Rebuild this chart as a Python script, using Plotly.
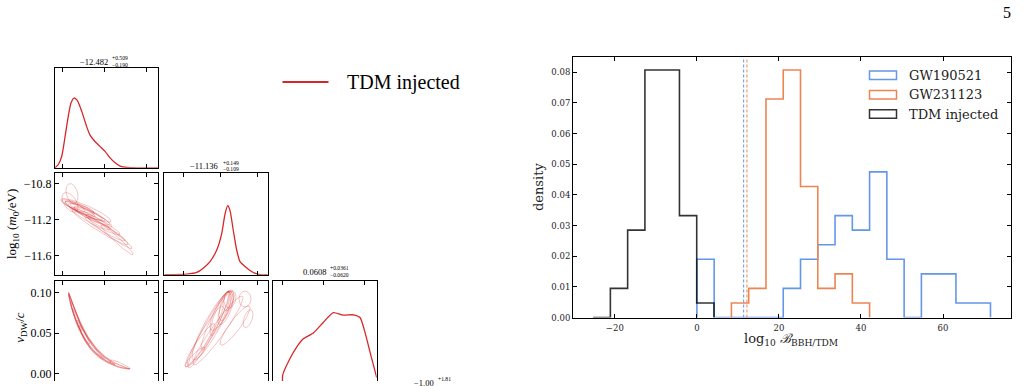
import numpy as np
import plotly.graph_objects as go

W, H = 1023, 386
RED = "#d62728"
CONTOUR = "rgba(214,39,40,0.3)"
BLUE = "#6397e8"
ORANGE = "#ec8552"
BLACK = "rgba(0,0,0,0.8)"

# ---------------- corner plot data ----------------
# marginal of parameter 0 (first column)
diag0_x = [-13.18, -13.10, -13.02, -12.94, -12.86, -12.80, -12.73, -12.65, -12.54, -12.44,
           -12.35, -12.23, -12.11, -11.99, -11.87, -11.75, -11.63, -11.47, -11.20, -10.73]
diag0_y = [0.0, 0.033, 0.116, 0.314, 0.528, 0.65, 0.70, 0.676, 0.561, 0.43,
           0.33, 0.264, 0.215, 0.165, 0.099, 0.05, 0.017, 0.003, 0.0, 0.0]
# marginal of log10(m0/eV)
diag1_x = [-11.81, -11.567, -11.459, -11.388, -11.315, -11.242, -11.188, -11.152, -11.123,
           -11.098, -11.063, -11.026, -10.990, -10.936, -10.846, -10.773, -10.69]
diag1_y = [0.0, 0.006, 0.022, 0.064, 0.129, 0.244, 0.406, 0.601, 0.682,
           0.633, 0.439, 0.244, 0.129, 0.081, 0.022, 0.0, 0.0]
# marginal of v_DW/c
diag2_x = [0.0, 0.0001, 0.0090, 0.0171, 0.0251, 0.0373, 0.0494, 0.0616, 0.0737, 0.0859,
           0.0940, 0.1001, 0.1062, 0.1135, 0.1143]
diag2_y = [0.0, 0.074, 0.237, 0.350, 0.432, 0.490, 0.594, 0.691, 0.666, 0.669,
           0.642, 0.496, 0.301, 0.074, 0.05]

# 2D contours (Gaussian-like): centre x, centre y, spread x, spread y, correlation
c10_cx = [-12.585, -12.466, -12.704, -12.347, -12.228, -12.823, -12.776, -12.109, -11.705,
          -11.990, -12.395, -12.538, -12.300, -12.633, -12.157, -11.872, -12.443]
c10_cy = [-11.087, -11.108, -11.054, -11.152, -11.217, -11.010, -10.912, -11.283, -11.425,
          -11.305, -11.130, -11.076, -11.163, -11.065, -11.228, -11.348, -11.098]
c10_sx = [0.357, 0.476, 0.238, 0.523, 0.595, 0.190, 0.143, 0.666, 0.381,
          0.476, 0.333, 0.285, 0.428, 0.381, 0.285, 0.523, 0.595]
c10_sy = [0.087, 0.109, 0.065, 0.131, 0.153, 0.109, 0.109, 0.196, 0.164,
          0.131, 0.076, 0.0545, 0.098, 0.087, 0.087, 0.174, 0.131]
c10_rho = [-0.9, -0.92, -0.8, -0.93, -0.95, -0.5, -0.3, -0.96, -0.97,
           -0.95, -0.85, -0.8, -0.9, -0.85, -0.9, -0.97, -0.9]

# parameter 0 vs v_DW/c: Gaussian in (x, ln v)
c20_cx = [-12.43, -12.30, -12.10, -12.60, -12.20, -11.63, -12.40, -12.00, -12.70, -12.35]
c20_cv = [0.0426, 0.033, 0.0222, 0.0596, 0.027, 0.0096, 0.040, 0.018, 0.073, 0.0365]
c20_sx = [0.43, 0.55, 0.70, 0.25, 0.45, 0.24, 0.35, 0.60, 0.16, 0.50]
c20_sl = [0.856, 1.09, 1.39, 0.50, 0.90, 0.55, 0.70, 1.20, 0.32, 1.00]
c20_rho = [-0.997, -0.995, -0.993, -0.985, -0.99, -0.8, -0.995, -0.99, -0.97, -0.995]

# log10(m0) vs v_DW/c
c21_cx = [-11.326, -11.261, -11.206, -11.152, -11.120, -11.369, -11.293, -11.423, -11.185,
          -11.098, -10.936, -10.903, -11.044, -11.228, -11.142, -11.477]
c21_cy = [0.0545, 0.0655, 0.0740, 0.0838, 0.0899, 0.0472, 0.0594, 0.0350, 0.0777,
          0.0923, 0.0923, 0.0679, 0.0594, 0.0533, 0.0813, 0.0204]
c21_sx = [0.227, 0.152, 0.108, 0.065, 0.054, 0.195, 0.217, 0.162, 0.130,
          0.065, 0.065, 0.054, 0.162, 0.271, 0.087, 0.108]
c21_sy = [0.0476, 0.0366, 0.0268, 0.0183, 0.0122, 0.0366, 0.0427, 0.0268, 0.0244,
          0.011, 0.0098, 0.011, 0.0244, 0.0427, 0.0207, 0.0122]
c21_rho = [0.95, 0.93, 0.85, 0.6, 0.3, 0.95, 0.9, 0.93, 0.8,
           0.2, 0.0, 0.5, 0.9, 0.95, 0.7, 0.9]

titles = [("−12.482", "+0.509", "−0.190"),
          ("−11.136", "+0.149", "−0.109"),
          ("0.0608", "+0.0361", "−0.0620"),
          ("−1.00", "+1.81", "")]

# ---------------- histogram data ----------------
bin_width = 4.21
tdm_start, tdm_counts = -25.3, [0, 2, 6, 17, 17, 7, 1]
gw190521_start, gw190521_counts = 0.0, [4, 0, 0, 0, 0, 2, 4, 5, 7, 6, 10, 4, 0, 3, 3, 1, 1]
gw231123_start, gw231123_counts = 8.42, [1, 2, 15, 17, 9, 2, 3, 1]
n_samples = 50
thr_gw190521 = 11.4
thr_gw231123 = 12.2
hist_xticks = [-20, 0, 20, 40, 60]


def step_outline(start, counts):
    xs, ys = [start], [0.0]
    for i, c in enumerate(counts):
        d = c / (n_samples * bin_width)
        xs += [start + i * bin_width, start + (i + 1) * bin_width]
        ys += [d, d]
    xs.append(start + len(counts) * bin_width)
    ys.append(0.0)
    return xs, ys


def gauss_loop(cx, cy, sx, sy, rho, n=90):
    t = np.linspace(0, 2 * np.pi, n)
    x = cx + sx * np.cos(t)
    y = cy + sy * (rho * np.cos(t) + np.sqrt(1 - rho ** 2) * np.sin(t))
    return x, y


fig = go.Figure()

# diagonals
fig.add_trace(go.Scatter(x=diag0_x, y=diag0_y, mode="lines", line=dict(color=RED, width=1.3, shape="spline", smoothing=0.6),
                         xaxis="x", yaxis="y"))
fig.add_trace(go.Scatter(x=diag1_x, y=diag1_y, mode="lines", line=dict(color=RED, width=1.3, shape="spline", smoothing=0.6),
                         xaxis="x3", yaxis="y3"))
fig.add_trace(go.Scatter(x=diag2_x, y=diag2_y, mode="lines", line=dict(color=RED, width=1.3, shape="spline", smoothing=0.6),
                         xaxis="x6", yaxis="y6"))

for i in range(len(c10_cx)):
    x, y = gauss_loop(c10_cx[i], c10_cy[i], c10_sx[i], c10_sy[i], c10_rho[i])
    fig.add_trace(go.Scatter(x=x, y=y, mode="lines", line=dict(color=CONTOUR, width=0.9), xaxis="x2", yaxis="y2"))
for i in range(len(c20_cx)):
    x, ly = gauss_loop(c20_cx[i], np.log(c20_cv[i]), c20_sx[i], c20_sl[i], c20_rho[i])
    fig.add_trace(go.Scatter(x=x, y=np.exp(ly), mode="lines", line=dict(color=CONTOUR, width=0.9), xaxis="x4", yaxis="y4"))
for i in range(len(c21_cx)):
    x, y = gauss_loop(c21_cx[i], c21_cy[i], c21_sx[i], c21_sy[i], c21_rho[i])
    fig.add_trace(go.Scatter(x=x, y=y, mode="lines", line=dict(color=CONTOUR, width=0.9), xaxis="x5", yaxis="y5"))

# histogram
for start, counts, col in [(gw190521_start, gw190521_counts, BLUE),
                           (gw231123_start, gw231123_counts, ORANGE),
                           (tdm_start, tdm_counts, BLACK)]:
    xs, ys = step_outline(start, counts)
    fig.add_trace(go.Scatter(x=xs, y=ys, mode="lines", line=dict(color=col, width=1.6),
                             xaxis="x7", yaxis="y7"))

Y7MAX = 0.0849
for v, col in [(thr_gw190521, BLUE), (thr_gw231123, ORANGE)]:
    fig.add_trace(go.Scatter(x=[v, v], y=[0, Y7MAX], mode="lines",
                             line=dict(color=col, width=1, dash="3px,2px"), xaxis="x7", yaxis="y7"))


def px(p):
    return p / W


def py(p):
    return 1 - p / H


CF = dict(family="Liberation Serif", size=12, color="black")
base = dict(showline=True, linecolor="black", linewidth=1, ticks="inside", ticklen=4,
            tickcolor="black", tickwidth=1, mirror="ticks", showgrid=False, zeroline=False,
            tickfont=CF)

col0 = [px(55), px(158)]
col1 = [px(164.3), px(267.7)]
col2 = [px(273.3), px(376.7)]
row0 = [py(170), py(69)]
row1 = [py(278.3), py(175.7)]
row2 = [0.0, py(285)]

r0 = [-13.18, -10.73]
r1 = [-11.81, -10.69]
r2x = [-0.0113, 0.1143]
r2y = [-0.0094, 0.1143]
t0 = [-13, -12, -11]
t1 = [-11.6, -11.2, -10.8]
t2 = [0.0, 0.05, 0.10]
t1txt = ["−11.6", "−11.2", "−10.8"]
t2txt = ["0.00", "0.05", "0.10"]

diag_y = dict(showline=True, linecolor="black", linewidth=1, mirror=True, ticks="",
              showticklabels=False, showgrid=False, zeroline=False)

layout = dict(
    width=W, height=H, margin=dict(l=0, r=0, t=0, b=0),
    paper_bgcolor="white", plot_bgcolor="white", showlegend=False,
    xaxis=dict(base, domain=col0, range=r0, tickvals=t0, showticklabels=False, anchor="y"),
    yaxis=dict(diag_y, domain=row0, range=[0, 1], anchor="x"),
    xaxis2=dict(base, domain=col0, range=r0, tickvals=t0, showticklabels=False, anchor="y2"),
    yaxis2=dict(base, domain=row1, range=r1, tickvals=t1, ticktext=t1txt, anchor="x2"),
    xaxis3=dict(base, domain=col1, range=r1, tickvals=t1, showticklabels=False, anchor="y3"),
    yaxis3=dict(diag_y, domain=row1, range=[0, 1], anchor="x3"),
    xaxis4=dict(base, domain=col0, range=r0, tickvals=t0, showticklabels=False, anchor="y4",
                side="top", mirror=False),
    yaxis4=dict(base, domain=row2, range=r2y, tickvals=t2, ticktext=t2txt, anchor="x4"),
    xaxis5=dict(base, domain=col1, range=r1, tickvals=t1, showticklabels=False, anchor="y5",
                side="top", mirror=False),
    yaxis5=dict(base, domain=row2, range=r2y, tickvals=t2, showticklabels=False, anchor="x5"),
    xaxis6=dict(base, domain=col2, range=r2x, tickvals=t2, showticklabels=False, anchor="y6",
                side="top", mirror=False),
    yaxis6=dict(diag_y, domain=row2, range=[0.0156, 1.0], anchor="x6"),
    xaxis7=dict(base, domain=[px(573), px(1010.7)], range=[-30.2, 76.5], tickvals=hist_xticks,
                ticktext=[("−" + str(-v)) if v < 0 else str(v) for v in hist_xticks],
                tickfont=dict(family="DejaVu Serif", size=8.5, color="#222"), anchor="y7",
                ticklabelstandoff=2),
    yaxis7=dict(base, domain=[py(321.7), py(58)], range=[0, Y7MAX], dtick=0.01, tick0=0,
                tickformat=".2f", tickfont=dict(family="DejaVu Serif", size=8.5, color="#222"),
                anchor="x7"),
)

anns = []
shapes = []

# diagonal titles
title_pos = [(109.5, 63), (220.0, 168.5), (327.5, 275.5), (435.5, 388.0)]
for (main, sup, sub), (xr, yc) in zip(titles, title_pos):
    anns.append(dict(x=px(xr), y=py(yc), xref="paper", yref="paper", text=main, showarrow=False,
                     xanchor="right", yanchor="middle", font=dict(family="Liberation Serif", size=8.5, color="black")))
    anns.append(dict(x=px(xr + 0.5), y=py(yc - 3.8), xref="paper", yref="paper", text=sup, showarrow=False,
                     xanchor="left", yanchor="middle", font=dict(family="Liberation Serif", size=5.6, color="black")))
    if sub:
        anns.append(dict(x=px(xr + 0.5), y=py(yc + 2.8), xref="paper", yref="paper", text=sub, showarrow=False,
                         xanchor="left", yanchor="middle", font=dict(family="Liberation Serif", size=5.6, color="black")))

# corner axis labels
anns.append(dict(x=px(12), y=py(227), xref="paper", yref="paper", textangle=-90, showarrow=False,
                 text="log<sub>10</sub> (<i>m</i><sub>0</sub>/eV)", xanchor="center", yanchor="middle",
                 font=dict(family="Liberation Serif", size=13, color="black")))
anns.append(dict(x=px(21), y=py(332), xref="paper", yref="paper", textangle=-90, showarrow=False,
                 text="<i>v</i><sub>DW</sub>/<i>c</i>", xanchor="center", yanchor="middle",
                 font=dict(family="Liberation Serif", size=13, color="black")))

# corner legend
shapes.append(dict(type="line", xref="paper", yref="paper", x0=px(282.5), x1=px(328.5), y0=py(83), y1=py(83),
                   line=dict(color=RED, width=2)))
anns.append(dict(x=px(345), y=py(83.3), xref="paper", yref="paper", text="TDM injected", showarrow=False,
                 xanchor="left", yanchor="middle", font=dict(family="Liberation Serif", size=20, color="black")))

# histogram axis titles
anns.append(dict(x=px(538), y=py(189.5), xref="paper", yref="paper", textangle=-90, showarrow=False,
                 text="density", xanchor="center", yanchor="middle",
                 font=dict(family="DejaVu Serif", size=13, color="#222")))
anns.append(dict(x=px(791), y=py(344), xref="paper", yref="paper", showarrow=False,
                 text="log<sub>10</sub> <i>ℬ</i><sub>BBH/TDM</sub>", xanchor="center", yanchor="middle",
                 font=dict(family="DejaVu Serif", size=13, color="#222")))

# histogram legend
leg = [("GW190521", BLUE, 76.2), ("GW231123", ORANGE, 95.9), ("TDM injected", BLACK, 115.5)]
for name, col, yc in leg:
    shapes.append(dict(type="rect", xref="paper", yref="paper", x0=px(869.5), x1=px(896.5),
                       y0=py(yc - 4.3), y1=py(yc + 4.3), line=dict(color=col, width=1.5),
                       fillcolor="rgba(0,0,0,0)"))
    anns.append(dict(x=px(906.5), y=py(yc), xref="paper", yref="paper", text=name, showarrow=False,
                     xanchor="left", yanchor="middle", font=dict(family="DejaVu Serif", size=13, color="#222")))

# page number
anns.append(dict(x=px(1007), y=py(13), xref="paper", yref="paper", text="5", showarrow=False,
                 xanchor="center", yanchor="middle", font=dict(family="Liberation Serif", size=16, color="black")))

layout["annotations"] = anns
layout["shapes"] = shapes
fig.update_layout(**layout)
fig.write_html("out.html")
